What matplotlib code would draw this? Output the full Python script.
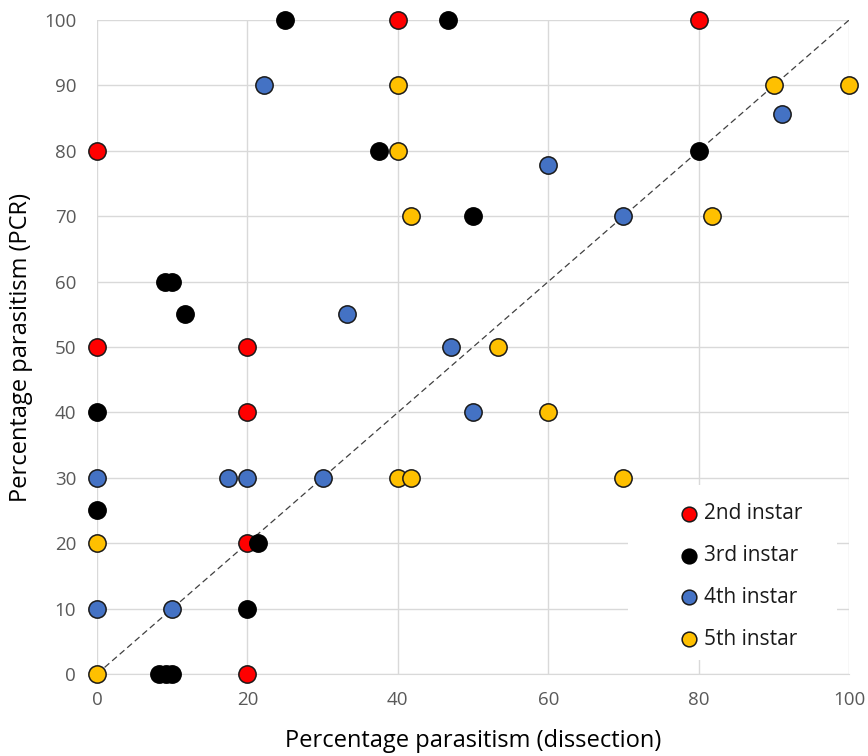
import matplotlib
matplotlib.use('Agg')
import matplotlib.pyplot as plt
from matplotlib.patches import Rectangle

plt.rcParams['font.family'] = ['Open Sans', 'DejaVu Sans']

# 2nd instar
x2 = [40, 80, 0, 0, 20, 20, 20, 20]
y2 = [100, 100, 80, 50, 50, 40, 20, 0]
# 3rd instar
x3 = [25, 46.7, 37.5, 80, 50, 9.1, 10, 11.7, 0, 0, 21.4, 20, 8.3, 9.2, 10]
y3 = [100, 100, 80, 80, 70, 60, 60, 55, 40, 25, 20, 10, 0, 0, 0]
# 4th instar
x4 = [22.2, 91.1, 60, 70, 33.3, 47.1, 50, 30, 17.4, 20, 0, 0, 10]
y4 = [90, 85.7, 77.8, 70, 55, 50, 40, 30, 30, 30, 30, 10, 10]
# 5th instar
x5 = [40, 90, 100, 40, 41.7, 81.8, 53.3, 60, 70, 40, 41.7, 0, 0]
y5 = [90, 90, 90, 80, 70, 70, 50, 40, 30, 30, 30, 20, 0]

fig = plt.figure(figsize=(8.68, 7.56), dpi=100)
ax = fig.add_axes([0.1118, 0.1085, 0.8664, 0.865])

ax.plot([0, 100], [0, 100], ls=(0, (5, 3)), c='#404040', lw=0.9, zorder=2)

ms = 155
ax.scatter(x2, y2, s=ms, c='#ff0000', edgecolors='#1a1a1a', linewidths=1.1, label='2nd instar', zorder=3, clip_on=False)
ax.scatter(x3, y3, s=ms, c='#000000', edgecolors='#000000', linewidths=1.1, label='3rd instar', zorder=3, clip_on=False)
ax.scatter(x4, y4, s=ms, c='#4472c4', edgecolors='#1a1a1a', linewidths=1.1, label='4th instar', zorder=3, clip_on=False)
ax.scatter(x5, y5, s=ms, c='#ffc000', edgecolors='#1a1a1a', linewidths=1.1, label='5th instar', zorder=3, clip_on=False)

ax.set_xlim(0, 100)
ax.set_ylim(0, 100)
ax.set_xticks(range(0, 101, 20))
ax.set_yticks(range(0, 101, 10))
ax.grid(True, color='#d9d9d9', lw=1)
ax.set_axisbelow(True)
for side in ['top', 'right', 'left']:
    ax.spines[side].set_visible(False)
ax.spines['bottom'].set_color('#d9d9d9')
ax.tick_params(length=0, labelsize=13.5, labelcolor='#595959')
ax.tick_params(axis='x', pad=12)
ax.tick_params(axis='y', pad=15)

ax.set_xlabel('Percentage parasitism (dissection)', fontsize=17, labelpad=15)
ax.set_ylabel('Percentage parasitism (PCR)', fontsize=17, labelpad=8)

# white box behind the legend (hides the gridlines there)
ax.add_patch(Rectangle((0.706, 0.021), 0.278, 0.268, transform=ax.transAxes,
                       facecolor='white', edgecolor='none', zorder=1))

leg = ax.legend(loc='upper left', bbox_to_anchor=(0.752, 0.277), frameon=False, fontsize=15,
                markerscale=0.85, labelspacing=1.0, handletextpad=0.0, borderpad=0.0,
                handlelength=1.5, scatterpoints=1)
for t in leg.get_texts():
    t.set_color('#1a1a1a')

fig.savefig('out.png', dpi=100)
